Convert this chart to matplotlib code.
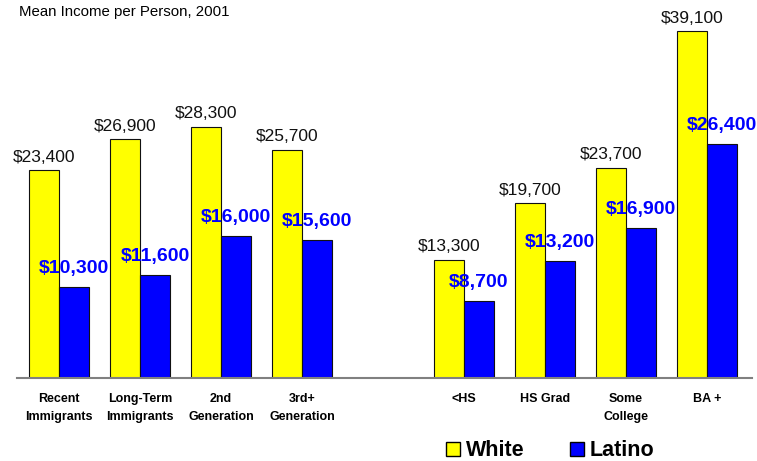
import matplotlib.pyplot as plt
from matplotlib.patches import Patch

plt.rcParams["font.family"] = ["Liberation Sans", "DejaVu Sans"]

categories = ["Recent\nImmigrants", "Long-Term\nImmigrants", "2nd\nGeneration", "3rd+\nGeneration",
              "<HS", "HS Grad", "Some\nCollege", "BA +"]
white = [23400, 26900, 28300, 25700, 13300, 19700, 23700, 39100]
latino = [10300, 11600, 16000, 15600, 8700, 13200, 16900, 26400]

# gap between the two groups of four
positions = [0, 1, 2, 3, 5, 6, 7, 8]
w = 0.37

fig = plt.figure(figsize=(7.57, 4.61), dpi=100)
ax = fig.add_axes([0.0225, 0.18, 0.971, 0.82])

xw = [p - w / 2 for p in positions]
xl = [p + w / 2 for p in positions]
ax.bar(xw, white, width=w, color="#ffff00", edgecolor="#111111", linewidth=0.8)
ax.bar(xl, latino, width=w, color="#0000ff", edgecolor="#111111", linewidth=0.8)

for x, v in zip(xw, white):
    ax.annotate(f"${v:,}", (x, v), xytext=(0, 4), textcoords="offset points",
                ha="center", va="bottom", fontsize=12.5, color="#111111")
for x, v in zip(xl, latino):
    ax.annotate(f"${v:,}", (x, v), xytext=(0, 7), textcoords="offset points",
                ha="center", va="bottom", fontsize=14, fontweight="bold", color="#0000ff")

ax.set_xlim(-0.52, 8.56)
ax.set_ylim(0, 42600)
ax.set_xticks(positions)
ax.set_xticklabels(categories, fontsize=9, fontweight="bold", linespacing=1.6)
ax.tick_params(axis="x", length=0, pad=11)
ax.set_yticks([])
for side in ["top", "left", "right"]:
    ax.spines[side].set_visible(False)
ax.spines["bottom"].set_color("#808080")
ax.spines["bottom"].set_linewidth(1.5)

fig.text(0.025, 0.975, "Mean Income per Person, 2001", fontsize=10.8, va="center", ha="left")

handles = [Patch(facecolor="#ffff00", edgecolor="black", label="White"),
           Patch(facecolor="#0000ff", edgecolor="black", label="Latino")]
fig.legend(handles=handles, loc="center", bbox_to_anchor=(0.727, 0.022), ncol=2, frameon=False,
           prop={"size": 15.5, "weight": "bold"}, handlelength=0.65, handleheight=0.65,
           handletextpad=0.28, columnspacing=2.1, borderpad=0)

fig.savefig("out.png", dpi=100)
